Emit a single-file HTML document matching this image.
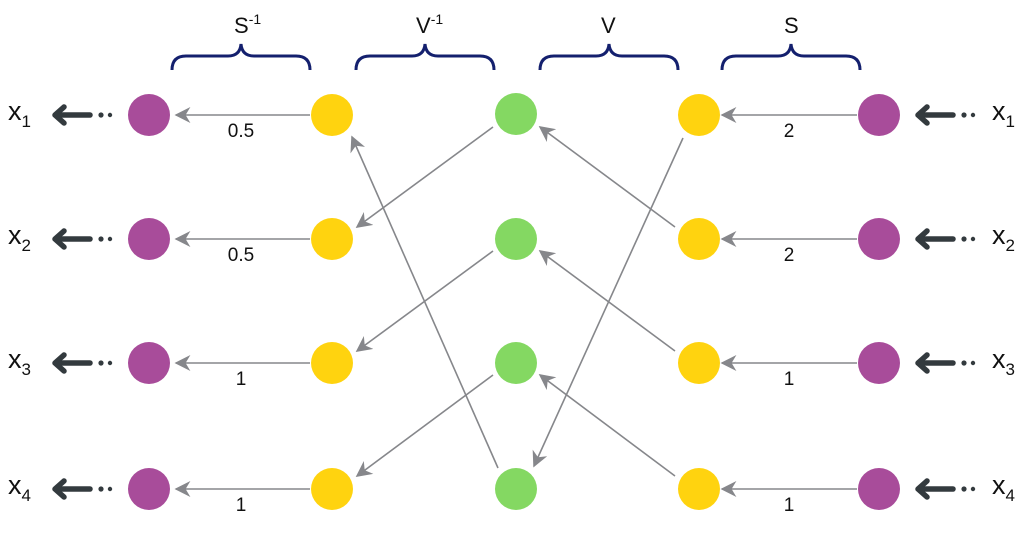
<!DOCTYPE html>
<html><head><style>html,body{margin:0;padding:0;background:#fff;width:1024px;height:543px;overflow:hidden}</style></head>
<body>
<svg width="1024" height="543" viewBox="0 0 1024 543" xmlns="http://www.w3.org/2000/svg" font-family="'Liberation Sans', 'DejaVu Sans', sans-serif">
<defs>
<marker id="a" viewBox="0 0 10 10" refX="9" refY="5" markerWidth="16" markerHeight="16" markerUnits="userSpaceOnUse" orient="auto"><path d="M0,0 L10,5 L0,10 L3,5 z" fill="#86878b"/></marker>
<g id="ta"><path d="M90,0 L60,0" stroke="#333a3e" stroke-width="5.5" stroke-linecap="round"/><path d="M64,-8 L55,0 L64,8" fill="none" stroke="#333a3e" stroke-width="5.5" stroke-linecap="round" stroke-linejoin="round"/><circle cx="101" cy="0" r="2.6" fill="#333a3e"/><circle cx="110" cy="0" r="2.2" fill="#333a3e"/></g>
</defs>
<g stroke="#86878b" stroke-width="1.6" fill="none" marker-end="url(#a)">
<line x1="310" y1="115" x2="176" y2="115"/><line x1="310" y1="239" x2="176" y2="239"/>
<line x1="310" y1="363" x2="176" y2="363"/><line x1="310" y1="489" x2="176" y2="489"/>
<line x1="857" y1="115" x2="722" y2="115"/><line x1="857" y1="239" x2="722" y2="239"/>
<line x1="857" y1="363" x2="722" y2="363"/><line x1="857" y1="489" x2="722" y2="489"/>
<line x1="493" y1="127" x2="357" y2="227"/><line x1="493" y1="251" x2="357" y2="351"/>
<line x1="493" y1="375" x2="357" y2="476"/><line x1="498" y1="468" x2="352" y2="137"/>
<line x1="675" y1="227" x2="540" y2="127"/><line x1="675" y1="351" x2="540" y2="251"/>
<line x1="675" y1="476" x2="540" y2="375"/><line x1="683" y1="138" x2="534" y2="466"/>
</g>
<g>
<g fill="#a84c9a"><circle cx="149" cy="115" r="21"/><circle cx="149" cy="239" r="21"/><circle cx="149" cy="363" r="21"/><circle cx="149" cy="489" r="21"/>
<circle cx="879" cy="115" r="21"/><circle cx="879" cy="239" r="21"/><circle cx="879" cy="363" r="21"/><circle cx="879" cy="489" r="21"/></g>
<g fill="#ffd30f"><circle cx="332" cy="115" r="21"/><circle cx="332" cy="239" r="21"/><circle cx="332" cy="363" r="21"/><circle cx="332" cy="489" r="21"/>
<circle cx="699" cy="115" r="21"/><circle cx="699" cy="239" r="21"/><circle cx="699" cy="363" r="21"/><circle cx="699" cy="489" r="21"/></g>
<g fill="#84d862"><circle cx="516" cy="114" r="21"/><circle cx="516" cy="239" r="21"/><circle cx="516" cy="363" r="21"/><circle cx="516" cy="489" r="21"/></g>
</g>
<use href="#ta" x="0" y="115"/><use href="#ta" x="0" y="239"/><use href="#ta" x="0" y="363"/><use href="#ta" x="0" y="489"/>
<use href="#ta" x="863" y="115"/><use href="#ta" x="863" y="239"/><use href="#ta" x="863" y="363"/><use href="#ta" x="863" y="489"/>
<g stroke="#14206e" stroke-width="3" fill="none">
<path d="M172,70 Q172,56 186,56 L228,56 Q240,56 241,44 Q242,56 254,56 L296,56 Q310,56 310,70"/>
<path d="M356,70 Q356,56 370,56 L412,56 Q424,56 425,44 Q426,56 438,56 L480,56 Q494,56 494,70"/>
<path d="M540,70 Q540,56 554,56 L596,56 Q608,56 609,44 Q610,56 622,56 L664,56 Q678,56 678,70"/>
<path d="M722,70 Q722,56 736,56 L778,56 Q790,56 791,44 Q792,56 804,56 L846,56 Q860,56 860,70"/>
</g>
<g fill="#111" font-size="22">
<text x="234" y="33">S<tspan font-size="14" dy="-9">-1</tspan></text>
<text x="416" y="33">V<tspan font-size="14" dy="-9">-1</tspan></text>
<text x="601" y="33">V</text>
<text x="784" y="33">S</text>
<g font-size="19" text-anchor="middle">
<text x="241" y="137">0.5</text><text x="241" y="261">0.5</text><text x="241" y="385">1</text><text x="241" y="511">1</text>
<text x="789" y="137">2</text><text x="789" y="261">2</text><text x="789" y="385">1</text><text x="789" y="511">1</text>
</g>
<g font-size="27">
<text x="8" y="120">x<tspan font-size="17" dy="7">1</tspan></text>
<text x="8" y="244">x<tspan font-size="17" dy="7">2</tspan></text>
<text x="8" y="368">x<tspan font-size="17" dy="7">3</tspan></text>
<text x="8" y="494">x<tspan font-size="17" dy="7">4</tspan></text>
<text x="992" y="120">x<tspan font-size="17" dy="7">1</tspan></text>
<text x="992" y="244">x<tspan font-size="17" dy="7">2</tspan></text>
<text x="992" y="368">x<tspan font-size="17" dy="7">3</tspan></text>
<text x="992" y="494">x<tspan font-size="17" dy="7">4</tspan></text>
</g>
</g>
</svg>
</body></html>
